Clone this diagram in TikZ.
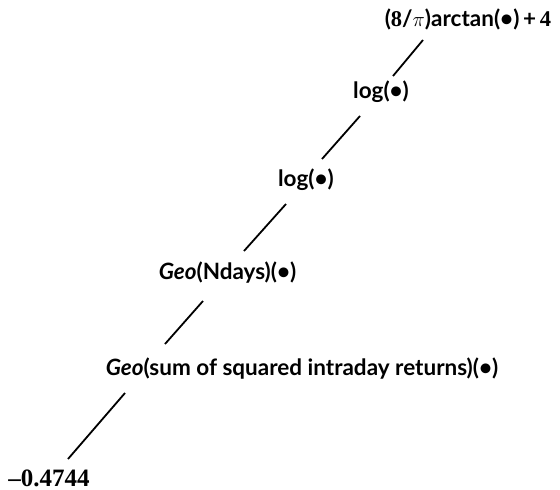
\documentclass[tikz,border=0pt]{standalone}
\usepackage{fontspec}
\setmainfont{Lato}[UprightFont=* Bold, ItalicFont=* Bold Italic]
\newfontfamily\numfont{Liberation Serif}[UprightFont=* Bold]
\begin{document}
\begin{tikzpicture}[x=1pt,y=-1pt,
  lbl/.style={anchor=base,inner sep=0pt,font=\fontsize{22.5}{26}\selectfont},
  conn/.style={line width=1.8pt,line cap=butt}]
\useasboundingbox (0,0) rectangle (560,490);
\node[lbl] (arc) at (468,26) {({\numfont 8}/$\pi$)arctan(\textbullet)\,+\,{\numfont 4}};
\node[lbl] (log1) at (381,98) {log(\textbullet)};
\node[lbl] (log2) at (306,186) {log(\textbullet)};
\node[lbl] (geon) at (227.5,279) {\textit{Geo}(Ndays)(\textbullet)};
\node[lbl] (geos) at (302,375) {\textit{Geo}(sum of squared intraday returns)(\textbullet)};
\node[lbl,font=\fontsize{25}{28}\selectfont] (num) at (49,486) {\numfont \textendash0.4744};
\coordinate (a1) at (423,40); \coordinate (b1) at (393,76);
\coordinate (a2) at (360,116); \coordinate (b2) at (322,159);
\coordinate (a3) at (286,204); \coordinate (b3) at (244,251);
\coordinate (a4) at (203,301); \coordinate (b4) at (165,344);
\coordinate (a5) at (125,393); \coordinate (b5) at (68,459);
\draw[conn] (a1) -- (b1);
\draw[conn] (a2) -- (b2);
\draw[conn] (a3) -- (b3);
\draw[conn] (a4) -- (b4);
\draw[conn] (a5) -- (b5);
\end{tikzpicture}
\end{document}
